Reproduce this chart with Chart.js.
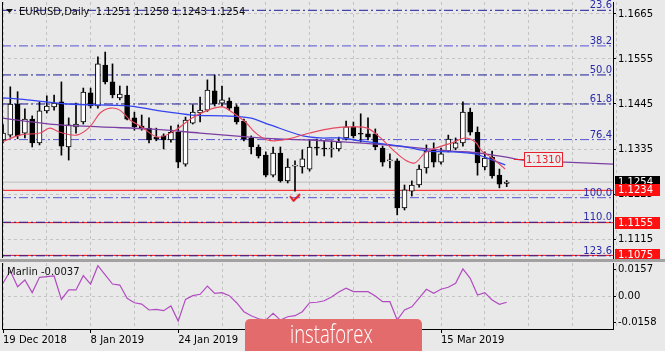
<!DOCTYPE html>
<html>
<head>
<meta charset="utf-8">
<title>EURUSD Daily</title>
<script src="https://cdn.jsdelivr.net/npm/chart.js@4.4.1/dist/chart.umd.min.js"></script>
<style>
    html, body { margin: 0; padding: 0; background: #e9e9e9; }
    #wrap { position: relative; width: 665px; height: 351px; overflow: hidden; background: #e9e9e9; }
    canvas { position: absolute; left: 0; }
    #main { top: 0; }
    #sub { top: 262px; }
    #sep { position: absolute; left: 0; top: 259px; width: 665px; height: 3px; background: #a2a2a2; }
    #logo {
        position: absolute; left: 245px; top: 319px; width: 177px; height: 40px;
        background: #e46b6b; border-radius: 5px; overflow: hidden;
    }
    #logo span {
        position: absolute; left: 45px; top: -3px; color: #fff;
        font: 300 25px "Open Sans", sans-serif; line-height: 34px;
        transform: scaleX(0.74); transform-origin: 0 0; white-space: nowrap;
    }
</style>
</head>
<body>
<div id="wrap">
    <canvas id="main" width="665" height="259"></canvas>
    <div id="sep"></div>
    <canvas id="sub" width="665" height="89"></canvas>
    <div id="logo"><span>instaforex</span></div>
</div>
<script>
(function () {
    "use strict";

    // Daily bars, 19 Dec 2018 .. 28 Mar 2019 (bar index = position on the time axis)
    const opens = [
        1.1357, 1.1369, 1.1445, 1.1374, 1.1408, 1.1350, 1.1428, 1.1438, 1.1450, 1.1340,
        1.1389, 1.1401, 1.1472, 1.1440, 1.1540, 1.1499, 1.1460, 1.1467, 1.1411, 1.1391,
        1.1386, 1.1364, 1.1367, 1.1357, 1.1376, 1.1298, 1.1398, 1.1423, 1.1430, 1.1477,
        1.1447, 1.1452, 1.1438, 1.1403, 1.1362, 1.1340, 1.1320, 1.1271, 1.1325, 1.1257,
        1.1293, 1.1291, 1.1286, 1.1340, 1.1337, 1.1335, 1.1335, 1.1362, 1.1389, 1.1372,
        1.1372, 1.1372, 1.1337, 1.1306, 1.1306, 1.1191, 1.1232, 1.1247, 1.1289, 1.1333,
        1.1303, 1.1330, 1.1337, 1.1350, 1.1425, 1.1376, 1.1291, 1.1315, 1.1271, 1.1251,
    ];
    const highs = [
        1.1395, 1.1487, 1.1475, 1.1433, 1.1416, 1.1450, 1.1465, 1.1467, 1.1499, 1.1411,
        1.1447, 1.1484, 1.1484, 1.1560, 1.1572, 1.1543, 1.1489, 1.1489, 1.1425, 1.1418,
        1.1411, 1.1386, 1.1372, 1.1391, 1.1394, 1.1413, 1.1443, 1.1462, 1.1504, 1.1516,
        1.1489, 1.1460, 1.1443, 1.1408, 1.1367, 1.1345, 1.1328, 1.1340, 1.1340, 1.1311,
        1.1306, 1.1333, 1.1357, 1.1359, 1.1355, 1.1355, 1.1364, 1.1403, 1.1401, 1.1421,
        1.1411, 1.1384, 1.1342, 1.1323, 1.1311, 1.1247, 1.1257, 1.1296, 1.1345, 1.1350,
        1.1337, 1.1369, 1.1362, 1.1450, 1.1435, 1.1389, 1.1328, 1.1330, 1.1286, 1.1258,
    ];
    const lows = [
        1.1350, 1.1364, 1.1360, 1.1362, 1.1340, 1.1345, 1.1423, 1.1430, 1.1320, 1.1308,
        1.1374, 1.1396, 1.1435, 1.1435, 1.1494, 1.1460, 1.1455, 1.1406, 1.1381, 1.1381,
        1.1350, 1.1355, 1.1335, 1.1352, 1.1289, 1.1293, 1.1396, 1.1401, 1.1427, 1.1440,
        1.1440, 1.1430, 1.1396, 1.1355, 1.1323, 1.1313, 1.1267, 1.1267, 1.1254, 1.1252,
        1.1232, 1.1276, 1.1281, 1.1320, 1.1318, 1.1315, 1.1330, 1.1357, 1.1362, 1.1352,
        1.1357, 1.1333, 1.1293, 1.1289, 1.1174, 1.1186, 1.1220, 1.1242, 1.1276, 1.1291,
        1.1298, 1.1328, 1.1333, 1.1342, 1.1369, 1.1271, 1.1284, 1.1264, 1.1240, 1.1243,
    ];
    const closes = [
        1.1374, 1.1445, 1.1367, 1.1408, 1.1350, 1.1428, 1.1440, 1.1447, 1.1342, 1.1394,
        1.1396, 1.1474, 1.1440, 1.1543, 1.1499, 1.1467, 1.1469, 1.1408, 1.1389, 1.1386,
        1.1357, 1.1359, 1.1357, 1.1376, 1.1303, 1.1406, 1.1425, 1.1430, 1.1479, 1.1445,
        1.1455, 1.1435, 1.1401, 1.1359, 1.1340, 1.1318, 1.1271, 1.1325, 1.1257, 1.1291,
        1.1295, 1.1311, 1.1340, 1.1337, 1.1335, 1.1337, 1.1352, 1.1389, 1.1367, 1.1371,
        1.1364, 1.1340, 1.1303, 1.1308, 1.1191, 1.1235, 1.1247, 1.1286, 1.1330, 1.1303,
        1.1323, 1.1359, 1.1350, 1.1425, 1.1376, 1.1301, 1.1313, 1.1269, 1.1249, 1.1254,
    ];

    // Moving averages (bar index, price)
    const maFastIdx = [-0.4, 2.3, 5.1, 6.4, 7.8, 10.1, 11.9, 13.3, 14.7, 16, 17.4, 19, 21.2, 23.6, 25.9, 28.1, 30, 31.4, 33.2, 34.5, 36.2, 38.4, 42, 45.2, 47.9, 49.9, 51.6, 53.4, 55.1, 56.4, 57.8, 59.2, 61.5, 63.3, 64.7, 65.6, 67, 68.8];
    const maFast = [1.1350, 1.1369, 1.1374, 1.1386, 1.1376, 1.1369, 1.1389, 1.1423, 1.1435, 1.1430, 1.1406, 1.1389, 1.1364, 1.1381, 1.1411, 1.1430, 1.1438, 1.1425, 1.1401, 1.1376, 1.1357, 1.1357, 1.1374, 1.1386, 1.1389, 1.1386, 1.1364, 1.1333, 1.1308, 1.1301, 1.1325, 1.1337, 1.1350, 1.1362, 1.1352, 1.1330, 1.1313, 1.1286];
    const maMidIdx = [-0.4, 2.3, 8.8, 17.4, 21.5, 25.9, 30.4, 33.8, 36.6, 40.7, 43.4, 46.2, 48.9, 52.3, 55.1, 58.2, 61.5, 64.7, 66, 68.8];
    const maMid = [1.1460, 1.1457, 1.1445, 1.1440, 1.1428, 1.1418, 1.1416, 1.1411, 1.1394, 1.1369, 1.1362, 1.1362, 1.1355, 1.1347, 1.1340, 1.1330, 1.1328, 1.1323, 1.1315, 1.1296];
    const maSlowIdx = [-0.4, 6.4, 13.3, 20.1, 27, 33.8, 38.4, 42.1, 47.1, 52.3, 57.1, 61.5, 65.3, 69, 71.2, 77, 83.6];
    const maSlow = [1.1411, 1.1396, 1.1389, 1.1384, 1.1374, 1.1364, 1.1359, 1.1357, 1.1352, 1.1345, 1.1337, 1.1330, 1.1325, 1.1315, 1.1308, 1.1303, 1.1298];

    // Marlin oscillator, one value per bar
    const marlin = [
        0.0076, 0.0150, 0.0055, 0.0095, 0.0020, 0.0111, 0.0115, 0.0119, -0.0020, 0.0036,
        0.0036, 0.0121, 0.0071, 0.0180, 0.0125, 0.0071, 0.0065, -0.0014, -0.0040, -0.0048,
        -0.0083, -0.0079, -0.0087, -0.0059, -0.0149, -0.0020, 0.0002, 0.0010, 0.0059, 0.0016,
        0.0020, 0.0002, -0.0040, -0.0093, -0.0117, -0.0135, -0.0143, -0.0103, -0.0143, -0.0123,
        -0.0117, -0.0093, -0.0040, -0.0037, -0.0028, -0.0006, 0.0024, 0.0046, 0.0026, 0.0026,
        0.0026, 0.0000, -0.0034, -0.0034, -0.0143, -0.0083, -0.0064, -0.0012, 0.0040, 0.0016,
        0.0040, 0.0052, 0.0076, 0.0161, 0.0105, 0.0006, 0.0020, -0.0024, -0.0049, -0.0037,
    ];

    // Fibonacci grid
    const fibNames = ["23.6", "38.2", "50.0", "61.8", "76.4", "100.0", "110.0", "123.6"];
    const fibLevels = [1.1674, 1.1587, 1.1516, 1.1445, 1.1358, 1.1216, 1.1156, 1.1074];

    // Other levels and marks
    const bidPrice = 1.1254;
    const alertLevels = [1.1234, 1.1155, 1.1075];
    const noteIdx = 70;
    const notePrice = 1.1310;
    const markIdx = [40];
    const markPrice = [1.1216];

    // Axis ticks
    const priceTicks = [1.1115, 1.1225, 1.1335, 1.1445, 1.1555, 1.1665];
    const marlinTicks = [-0.0158, 0, 0.0157];
    const marlinTickLabels = ["-0.0158", "0.00", "0.0157"];
    const tickIdx = [0, 12, 24, 36, 48, 60];
    const tickLabels = ["19 Dec 2018", "8 Jan 2019", "24 Jan 2019", "11 Feb 2019", "27 Feb 2019", "15 Mar 2019"];
    const gridIdx = [0, 6, 12, 18, 24, 30, 36, 42, 48, 54, 60, 66, 72, 78, 84];

    const X_MIN = -0.137, X_MAX = 83.56;
    const Y_MIN = 1.10686, Y_MAX = 1.16943;
    const FONT = { family: "DejaVu Sans", size: 10 };
    const GRID = "#c4c4c4";

    const idx = opens.map((_, i) => i);
    const pts = (xs, ys) => xs.map((x, i) => ({ x: x, y: ys[i] }));
    const hline = (v) => [{ x: X_MIN, y: v }, { x: X_MAX, y: v }];
    const lightFib = ["38.2", "76.4", "100.0"];
    const noPad = (s) => { s.paddingTop = 0; s.paddingBottom = 0; s.paddingLeft = 0; s.paddingRight = 0; };

    const checkMark = document.createElement("canvas");
    checkMark.width = 12;
    checkMark.height = 9;
    (function () {
        const c = checkMark.getContext("2d");
        c.strokeStyle = "#e8101a";
        c.lineWidth = 2;
        c.beginPath();
        c.moveTo(1, 3);
        c.lineTo(4.5, 7.5);
        c.lineTo(11, 1);
        c.stroke();
    })();

    const datasets = [];

    fibLevels.forEach((lv, k) => {
        datasets.push({
            type: "line",
            data: hline(lv),
            borderColor: lightFib.includes(fibNames[k]) ? "#5656d4" : "#1c1c9a",
            borderWidth: 1,
            borderDash: [9, 3, 2, 3],
            pointRadius: 0,
            order: 10,
        });
    });
    alertLevels.forEach((lv) => {
        datasets.push({
            type: "line",
            data: hline(lv),
            borderColor: "#ff1010",
            borderWidth: 1,
            pointRadius: 0,
            order: 11,
        });
    });
    datasets.push({
        type: "line",
        data: hline(bidPrice),
        borderColor: "#bdbdbd",
        borderWidth: 1,
        pointRadius: 0,
        order: 12,
    });

    // wicks
    datasets.push({
        type: "bar",
        data: idx.map((i) => ({ x: i, y: [lows[i], highs[i]] })),
        backgroundColor: "#000",
        borderWidth: 0,
        barThickness: 1,
        grouped: false,
        order: 6,
    });
    // bodies
    datasets.push({
        type: "bar",
        data: idx.map((i) => ({ x: i, y: [opens[i], closes[i]] })),
        backgroundColor: idx.map((i) => (closes[i] >= opens[i] ? "#ffffff" : "#000000")),
        borderColor: "#000",
        borderWidth: 1,
        borderSkipped: false,
        barThickness: 5,
        minBarLength: 1,
        grouped: false,
        order: 5,
    });

    datasets.push({
        type: "line",
        data: pts(maSlowIdx, maSlow),
        borderColor: "#7b3fa3",
        borderWidth: 1.3,
        pointRadius: 0,
        tension: 0.3,
        order: 3,
    });
    datasets.push({
        type: "line",
        data: pts(maMidIdx, maMid),
        borderColor: "#3344f0",
        borderWidth: 1.3,
        pointRadius: 0,
        tension: 0.3,
        order: 2,
    });
    datasets.push({
        type: "line",
        data: pts(maFastIdx, maFast),
        borderColor: "#e8475f",
        borderWidth: 1.1,
        pointRadius: 0,
        tension: 0.35,
        order: 1,
    });
    datasets.push({
        type: "scatter",
        data: pts(markIdx, markPrice),
        pointStyle: checkMark,
        order: 0,
    });

    const mainOverlay = {
        id: "mainOverlay",
        afterDraw(chart) {
            const { ctx, chartArea: a, scales } = chart;
            const x = scales.x, y = scales.y;
            ctx.save();

            // left frame
            ctx.strokeStyle = "#000";
            ctx.lineWidth = 1;
            ctx.beginPath();
            ctx.moveTo(a.left + 0.5, a.top);
            ctx.lineTo(a.left + 0.5, a.bottom);
            ctx.stroke();

            ctx.font = '10px "DejaVu Sans"';

            // fibo level names
            ctx.fillStyle = "#2a2aa8";
            ctx.textAlign = "right";
            ctx.textBaseline = "alphabetic";
            fibLevels.forEach((lv, k) => {
                ctx.fillText(fibNames[k], a.right - 1, y.getPixelForValue(lv) - 2);
            });

            // title
            ctx.fillStyle = "#111";
            ctx.beginPath();
            ctx.moveTo(6, 9);
            ctx.lineTo(13, 9);
            ctx.lineTo(9.5, 13);
            ctx.closePath();
            ctx.fill();
            ctx.textAlign = "left";
            ctx.fillText("EURUSD,Daily  " + [opens[69], highs[69], lows[69], closes[69]].map((v) => v.toFixed(4)).join(" "), 19, 15);

            // price note
            const nx = x.getPixelForValue(noteIdx);
            const ny = Math.round(y.getPixelForValue(notePrice)) + 0.5;
            ctx.strokeStyle = "#e8202e";
            ctx.beginPath();
            ctx.moveTo(nx, ny);
            ctx.lineTo(nx + 10, ny);
            ctx.stroke();
            ctx.fillStyle = "#ececec";
            ctx.fillRect(nx + 10.5, ny - 7, 38, 14);
            ctx.strokeRect(nx + 10.5, ny - 7, 38, 14);
            ctx.fillStyle = "#e8202e";
            ctx.textAlign = "center";
            ctx.textBaseline = "middle";
            ctx.fillText(notePrice.toFixed(4), nx + 29.5, ny + 0.5);

            // right price tags
            ctx.textAlign = "left";
            const tags = [bidPrice].concat(alertLevels);
            tags.forEach((v, k) => {
                const py = Math.round(y.getPixelForValue(v));
                ctx.fillStyle = k === 0 ? "#000" : "#ff1010";
                ctx.fillRect(a.right + 2, py - 6, 45, 12);
                ctx.fillStyle = "#fff";
                ctx.fillText(v.toFixed(4), a.right + 5, py + 0.5);
            });
            ctx.restore();
        },
    };

    new Chart(document.getElementById("main"), {
        type: "bar",
        data: { datasets: datasets },
        options: {
            responsive: false,
            animation: false,
            events: [],
            layout: { autoPadding: false, padding: { top: 2, bottom: 1, left: 2, right: 0 } },
            plugins: { legend: { display: false }, tooltip: { enabled: false } },
            scales: {
                x: {
                    type: "linear",
                    min: X_MIN,
                    max: X_MAX,
                    offset: false,
                    afterBuildTicks: (s) => { s.ticks = gridIdx.map((v) => ({ value: v })); },
                    afterFit: (s) => { s.height = 0; noPad(s); },
                    ticks: { display: false },
                    grid: { color: GRID, drawTicks: false, offset: false },
                    border: { display: false, dash: [3, 3] },
                },
                y: {
                    position: "right",
                    min: Y_MIN,
                    max: Y_MAX,
                    afterBuildTicks: (s) => { s.ticks = priceTicks.map((v) => ({ value: v })); },
                    afterFit: (s) => { s.width = 52; noPad(s); },
                    ticks: { color: "#000", font: FONT, padding: 2, callback: (v) => v.toFixed(4) },
                    grid: { color: GRID, tickColor: "#000", tickLength: 3 },
                    border: { display: true, color: "#000", dash: [3, 3] },
                },
            },
        },
        plugins: [mainOverlay],
    });

    // Marlin panel
    const subOverlay = {
        id: "subOverlay",
        afterDraw(chart) {
            const { ctx, chartArea: a } = chart;
            ctx.save();
            ctx.strokeStyle = "#000";
            ctx.beginPath();
            ctx.moveTo(a.left + 0.5, a.top);
            ctx.lineTo(a.left + 0.5, a.bottom);
            ctx.stroke();
            ctx.font = '10px "DejaVu Sans"';
            ctx.fillStyle = "#111";
            ctx.fillText("Marlin " + marlin[marlin.length - 1].toFixed(4), 7, 13);
            ctx.restore();
        },
    };

    new Chart(document.getElementById("sub"), {
        type: "line",
        data: {
            datasets: [{
                data: pts(idx, marlin),
                borderColor: "#b14cc0",
                borderWidth: 1.2,
                pointRadius: 0,
                tension: 0,
            }],
        },
        options: {
            responsive: false,
            animation: false,
            events: [],
            layout: { autoPadding: false, padding: { top: 1, bottom: 0, left: 2, right: 0 } },
            plugins: { legend: { display: false }, tooltip: { enabled: false } },
            scales: {
                x: {
                    type: "linear",
                    min: X_MIN,
                    max: X_MAX,
                    offset: false,
                    afterBuildTicks: (s) => { s.ticks = gridIdx.map((v) => ({ value: v })); },
                    afterFit: (s) => { s.height = 22; noPad(s); },
                    ticks: {
                        autoSkip: false,
                        maxRotation: 0,
                        align: "start",
                        padding: 1,
                        color: "#000",
                        font: FONT,
                        callback: (v) => {
                            const k = tickIdx.indexOf(v);
                            return k < 0 ? "" : tickLabels[k];
                        },
                    },
                    grid: {
                        color: GRID,
                        tickLength: 4,
                        tickColor: (c) => (c.tick && tickIdx.includes(c.tick.value) ? "#000" : "rgba(0,0,0,0)"),
                    },
                    border: { display: true, color: "#000", dash: [3, 3] },
                },
                y: {
                    position: "right",
                    min: -0.0196,
                    max: 0.0196,
                    afterBuildTicks: (s) => { s.ticks = marlinTicks.map((v) => ({ value: v })); },
                    afterFit: (s) => { s.width = 52; noPad(s); },
                    ticks: {
                        color: "#000",
                        font: FONT,
                        padding: 2,
                        callback: (v) => marlinTickLabels[marlinTicks.indexOf(v)],
                    },
                    grid: { color: (c) => (c.tick && c.tick.value === 0 ? GRID : "rgba(0,0,0,0)"), tickColor: "#000", tickLength: 3 },
                    border: { display: true, color: "#000", dash: [3, 3] },
                },
            },
        },
        plugins: [subOverlay],
    });
})();
</script>
</body>
</html>
